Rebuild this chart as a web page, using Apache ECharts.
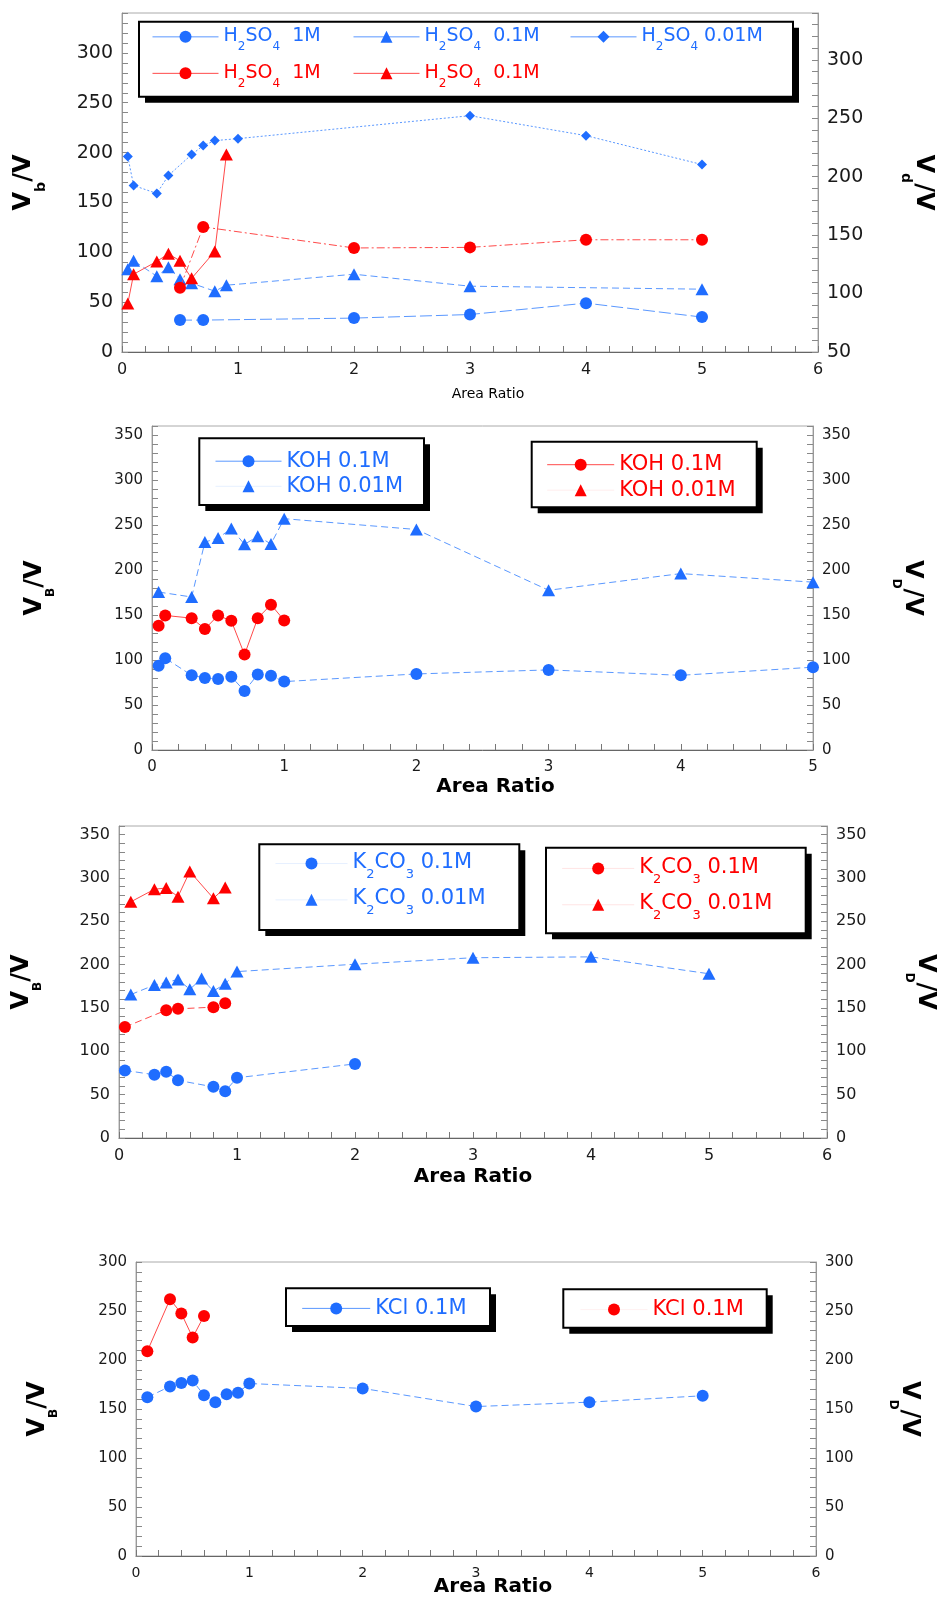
<!DOCTYPE html>
<html><head><meta charset="utf-8">
<script src="https://cdn.jsdelivr.net/npm/echarts@6/dist/echarts.min.js"></script>
<style>html,body{margin:0;padding:0;background:#fff}#c{width:938px;height:1600px}</style>
</head><body><div id="c"></div>
<script>
// ---------------- DATA ----------------
// Panel 1: H2SO4  (blue = V_B left axis, red = V_D right axis)
const h2so4X1M   = [0.5, 0.7, 2, 3, 4, 5];
const h2so4VB1M  = [32, 32, 34, 37.6, 49, 35];
const h2so4X01M  = [0.05, 0.1, 0.3, 0.4, 0.5, 0.6, 0.8, 0.9, 2, 3, 5];
const h2so4VB01M = [83, 91.5, 76, 85, 73, 69, 61, 67, 78, 66, 63];
const h2so4X001M = [0.05, 0.1, 0.3, 0.4, 0.6, 0.7, 0.8, 1, 3, 4, 5];
const h2so4VB001M= [196, 167, 159, 177, 198, 207, 212, 214, 237, 217, 188];
const h2so4XD1M  = [0.5, 0.7, 2, 3, 4, 5];
const h2so4VD1M  = [105, 157, 139, 139.5, 146, 146];
const h2so4XD01M = [0.05, 0.1, 0.3, 0.4, 0.5, 0.6, 0.8, 0.9];
const h2so4VD01M = [91.5, 116.5, 127.5, 134, 128, 113, 136, 219];

// Panel 2: KOH
const kohX01   = [0.05, 0.1, 0.3, 0.4, 0.5, 0.6, 0.7, 0.8, 0.9, 1, 2, 3, 4, 5];
const kohVB01  = [93.5, 102, 83, 80, 79, 81.5, 65.5, 84, 82.5, 76, 84.5, 89, 83, 92];
const kohX001  = [0.05, 0.3, 0.4, 0.5, 0.6, 0.7, 0.8, 0.9, 1, 2, 3, 4, 5];
const kohVB001 = [175.5, 170, 231, 235.5, 246, 228.5, 237.5, 229, 257, 245, 177.5, 196, 186.5];
const kohXD01  = [0.05, 0.1, 0.3, 0.4, 0.5, 0.6, 0.7, 0.8, 0.9, 1];
const kohVD01  = [138, 149.5, 146.5, 134.5, 149.5, 143.5, 106, 146.5, 161.5, 144];
const kohXD001 = [];
const kohVD001 = [];

// Panel 3: K2CO3
const k2co3X01   = [0.05, 0.3, 0.4, 0.5, 0.8, 0.9, 1, 2];
const k2co3VB01  = [78, 73, 76.5, 66.5, 59, 54, 69.5, 85.5];
const k2co3X001  = [0.1, 0.3, 0.4, 0.5, 0.6, 0.7, 0.8, 0.9, 1, 2, 3, 4, 5];
const k2co3VB001 = [165.5, 176.5, 179.5, 183, 171.5, 184, 169.5, 178, 192, 200.5, 208, 209, 189.5];
const k2co3XD01  = [0.05, 0.4, 0.5, 0.8, 0.9];
const k2co3VD01  = [128, 147.5, 149, 151, 155.5];
const k2co3XD001 = [0.1, 0.3, 0.4, 0.5, 0.6, 0.8, 0.9];
const k2co3VD001 = [272.5, 287, 288.5, 278.5, 307.5, 276.5, 289];

// Panel 4: KCl
const kclX  = [0.1, 0.3, 0.4, 0.5, 0.6, 0.7, 0.8, 0.9, 1, 2, 3, 4, 5];
const kclVB = [162, 173, 176.5, 179, 164, 157, 165, 166.5, 176, 171, 152.5, 157, 163.5];
const kclXD = [0.1, 0.3, 0.4, 0.5, 0.6];
const kclVD = [209, 262, 247.5, 223, 245];

// Axis ranges
const xMax        = [6, 5, 6, 6];
const yLeftRange  = [[0, 340], [0, 360], [0, 360], [0, 300]];
const yRightRange = [[50, 340], [0, 360], [0, 360], [0, 300]];
const xTitle = 'Area Ratio';

// ---------------- STYLE / LAYOUT ----------------
const FONT = 'DejaVu Sans';
const BLUE = '#1f6dff', BLUE_LINE = '#5a98ff';
const RED = '#ff0000', RED_LINE = '#ff4a4a';

// legend frames [x0, y0, x1, y1] (layout only)
const legendFrames = [
  [139, 21.7, 793, 96.7],
  [199.3, 438.3, 424, 505],
  [531.7, 441.7, 756.7, 507.3],
  [259.3, 844.3, 519.3, 930],
  [546, 847.7, 805.7, 933.3],
  [286, 1288.3, 490, 1326],
  [563.3, 1289.3, 766.7, 1327.7]
];

const LABELS = {
  P1_b1:  '{b|H}{bs|2}{b|SO}{bs|4}{b|  1M}',
  P1_b01: '{b|H}{bs|2}{b|SO}{bs|4}{b|  0.1M}',
  P1_b001:'{b|H}{bs|2}{b|SO}{bs|4}{b| 0.01M}',
  P1_r1:  '{r|H}{rs|2}{r|SO}{rs|4}{r|  1M}',
  P1_r01: '{r|H}{rs|2}{r|SO}{rs|4}{r|  0.1M}',
  P2_b01: '{b|KOH 0.1M}', P2_b001: '{b|KOH 0.01M}',
  P2_r01: '{r|KOH 0.1M}', P2_r001: '{r|KOH 0.01M}',
  P3_b01: '{b|K}{bs|2}{b|CO}{bs|3}{b| 0.1M}', P3_b001: '{b|K}{bs|2}{b|CO}{bs|3}{b| 0.01M}',
  P3_r01: '{r|K}{rs|2}{r|CO}{rs|3}{r| 0.1M}', P3_r001: '{r|K}{rs|2}{r|CO}{rs|3}{r| 0.01M}',
  P4_b: '{b|KCl 0.1M}', P4_r: '{r|KCl 0.1M}'
};

function pts(xs, ys) { return xs.map((x, i) => [x, ys[i]]); }
function ser(name, xs, ys, gi, yi, symbol, size, red, dash) {
  return {
    type: 'line', name, xAxisIndex: gi, yAxisIndex: yi, data: pts(xs, ys),
    symbol, symbolSize: size, showSymbol: true, showAllSymbol: true,
    itemStyle: { color: red ? RED : BLUE },
    lineStyle: { color: red ? RED_LINE : BLUE_LINE, width: 1, type: dash || 'solid' },
    emphasis: { disabled: true }, animation: false, z: red ? 3 : 2
  };
}
const TRI = [13, 12], CIR = 12, DIA = 10;
const LONG = [12, 4], DOT = [2, 2], DD = [8, 3, 2, 3], MID = [7, 4];

function richSub(fs, sfs, pm, ps) {
  const mk = (c) => ({ color: c, fontFamily: FONT, fontSize: fs, padding: [pm, 0, pm, 0], verticalAlign: 'top' });
  const mks = (c) => ({ color: c, fontFamily: FONT, fontSize: sfs, padding: [ps, 0, 0, 0], verticalAlign: 'top' });
  return { b: mk(BLUE), bs: mks(BLUE), r: mk(RED), rs: mks(RED) };
}
function richPlain(fs) {
  return { b: { color: BLUE, fontFamily: FONT, fontSize: fs, lineHeight: 22 },
           r: { color: RED, fontFamily: FONT, fontSize: fs, lineHeight: 22 } };
}
function legendBox(o) {
  return Object.assign({
    selectedMode: false, padding: 0, itemHeight: 15, z: 10, orient: 'vertical',
    formatter: (n) => LABELS[n], lineStyle: { type: 'solid', width: 1 }
  }, o);
}

function xAx(gi, fs, nameFs, bold, gap, padL) {
  return {
    type: 'value', gridIndex: gi, min: 0, max: xMax[gi], interval: 1,
    axisLine: { onZero: false, lineStyle: { color: '#666', width: 1 } },
    axisTick: { inside: true, length: 6, lineStyle: { color: '#777' } },
    minorTick: { show: true, splitNumber: 5, length: 6, lineStyle: { color: '#777' } },
    splitLine: { show: false }, minorSplitLine: { show: false },
    axisLabel: { fontFamily: FONT, fontSize: fs, color: '#1a1a1a', margin: 10 },
    name: xTitle, nameLocation: 'middle', nameGap: gap, nameMoveOverlap: false,
    nameTextStyle: { fontFamily: FONT, fontSize: nameFs, fontWeight: bold ? 'bold' : 'normal',
                     color: '#000', padding: [0, 0, 0, padL] }
  };
}
function yAx(gi, pos, range, fs, sub, subFs, gap, showMax) {
  return {
    type: 'value', gridIndex: gi, position: pos, min: range[0], max: range[1], interval: 50,
    axisLine: { show: true, onZero: false, lineStyle: { color: '#999' } },
    axisTick: { show: true, inside: true, length: 6, lineStyle: { color: '#888' } },
    minorTick: { show: true, splitNumber: 5, length: 6, lineStyle: { color: '#888' } },
    splitLine: { show: false }, minorSplitLine: { show: false },
    axisLabel: { fontFamily: FONT, fontSize: fs, color: '#1a1a1a', margin: 9, showMaxLabel: !!showMax },
    name: '{m|V}{s|' + sub + '}{m|/V}', nameLocation: 'middle', nameGap: gap, nameMoveOverlap: false,
    nameRotate: pos === 'right' ? -90 : 90,
    nameTextStyle: { rich: {
      m: { fontFamily: FONT, fontSize: 24, fontWeight: 'bold', color: '#000', padding: [11, 0, 11, 0], verticalAlign: 'top' },
      s: { fontFamily: FONT, fontSize: subFs, fontWeight: 'bold', color: '#000', padding: [33, 0, 0, 0], verticalAlign: 'top' }
    } }
  };
}

// legend frames drawn as decoration (shadow + bordered white box)
const graphics = [];
legendFrames.forEach(([x0, y0, x1, y1]) => {
  graphics.push({ type: 'rect', z: 5, shape: { x: x0 + 6, y: y0 + 6, width: x1 - x0, height: y1 - y0 }, style: { fill: '#000' } });
  graphics.push({ type: 'rect', z: 6, shape: { x: x0, y: y0, width: x1 - x0, height: y1 - y0 }, style: { fill: '#fff', stroke: '#000', lineWidth: 2 } });
});

const P1RICH = richSub(19, 12, 6, 20.5);
const P3RICH = richSub(21, 13, 6, 22.3);

const option = {
  animation: false,
  backgroundColor: '#fff',
  graphic: graphics,
  grid: [
    { left: 122, top: 13, width: 696, height: 339, show: true, borderColor: '#aaa', borderWidth: 1, backgroundColor: 'transparent', outerBoundsMode: 'none' },
    { left: 152, top: 426, width: 661, height: 324, show: true, borderColor: '#aaa', borderWidth: 1, backgroundColor: 'transparent', outerBoundsMode: 'none' },
    { left: 119, top: 826, width: 708, height: 312, show: true, borderColor: '#aaa', borderWidth: 1, backgroundColor: 'transparent', outerBoundsMode: 'none' },
    { left: 136, top: 1262, width: 680, height: 294, show: true, borderColor: '#aaa', borderWidth: 1, backgroundColor: 'transparent', outerBoundsMode: 'none' }
  ],
  xAxis: [
    xAx(0, 16, 14, false, 35, 36),
    xAx(1, 15, 20, true, 27, 26),
    xAx(2, 16, 20, true, 29, 0),
    xAx(3, 14, 20, true, 21, 34)
  ],
  yAxis: [
    yAx(0, 'left', yLeftRange[0], 19, 'b', 14, 74),
    yAx(0, 'right', yRightRange[0], 19, 'd', 14, 81),
    yAx(1, 'left', yLeftRange[1], 15, 'B', 12, 94),
    yAx(1, 'right', yRightRange[1], 15, 'D', 12, 76),
    yAx(2, 'left', yLeftRange[2], 16, 'B', 12, 74),
    yAx(2, 'right', yRightRange[2], 16, 'D', 12, 75),
    yAx(3, 'left', yLeftRange[3], 15, 'B', 12, 75, true),
    yAx(3, 'right', yRightRange[3], 15, 'D', 12, 70, true)
  ],
  legend: [
    legendBox({ left: 152, top: 26.6, itemWidth: 66, itemGap: 10,
      data: ['P1_b1', 'P1_r1'], textStyle: { rich: P1RICH } }),
    legendBox({ left: 353, top: 26.6, itemWidth: 66, itemGap: 10,
      data: ['P1_b01', 'P1_r01'], textStyle: { rich: P1RICH } }),
    legendBox({ left: 570, top: 26.6, itemWidth: 66, itemGap: 10,
      data: ['P1_b001'], textStyle: { rich: P1RICH } }),
    legendBox({ left: 215, top: 450.7, itemWidth: 66, itemGap: 4.1,
      data: ['P2_b01', { name: 'P2_b001', lineStyle: { opacity: 0.15 } }],
      textStyle: { rich: richPlain(21) } }),
    legendBox({ left: 546.7, top: 454.2, itemWidth: 67, itemGap: 4.5,
      data: ['P2_r01', { name: 'P2_r001', lineStyle: { opacity: 0.1 } }],
      textStyle: { rich: richPlain(21) } }),
    legendBox({ left: 275, top: 851.9, itemWidth: 72, itemGap: 7,
      data: [{ name: 'P3_b01', lineStyle: { opacity: 0.15 } }, { name: 'P3_b001', lineStyle: { opacity: 0.15 } }],
      textStyle: { rich: P3RICH } }),
    legendBox({ left: 561.7, top: 856.8, itemWidth: 72, itemGap: 7,
      data: [{ name: 'P3_r01', lineStyle: { opacity: 0.15 } }, { name: 'P3_r001', lineStyle: { opacity: 0.15 } }],
      textStyle: { rich: P3RICH } }),
    legendBox({ left: 301.7, top: 1297.9, itemWidth: 68,
      data: ['P4_b'], textStyle: { rich: richPlain(21) } }),
    legendBox({ left: 580, top: 1299.1, itemWidth: 67,
      data: [{ name: 'P4_r', lineStyle: { opacity: 0.08 } }], textStyle: { rich: richPlain(21) } })
  ],
  series: [
    ser('P1_b1',   h2so4X1M,   h2so4VB1M,   0, 0, 'circle',   CIR, false, LONG),
    ser('P1_b01',  h2so4X01M,  h2so4VB01M,  0, 0, 'triangle', TRI, false, MID),
    ser('P1_b001', h2so4X001M, h2so4VB001M, 0, 0, 'diamond',  DIA, false, DOT),
    ser('P1_r1',   h2so4XD1M,  h2so4VD1M,   0, 1, 'circle',   CIR, true, DD),
    ser('P1_r01',  h2so4XD01M, h2so4VD01M,  0, 1, 'triangle', TRI, true, 'solid'),

    ser('P2_b01',  kohX01,  kohVB01,  1, 2, 'circle',   CIR, false, MID),
    ser('P2_b001', kohX001, kohVB001, 1, 2, 'triangle', TRI, false, MID),
    ser('P2_r01',  kohXD01, kohVD01,  1, 3, 'circle',   CIR, true, 'solid'),
    ser('P2_r001', kohXD001, kohVD001, 1, 3, 'triangle', TRI, true, 'solid'),

    ser('P3_b01',  k2co3X01,  k2co3VB01,  2, 4, 'circle',   CIR, false, MID),
    ser('P3_b001', k2co3X001, k2co3VB001, 2, 4, 'triangle', TRI, false, MID),
    ser('P3_r01',  k2co3XD01, k2co3VD01,  2, 5, 'circle',   CIR, true, MID),
    ser('P3_r001', k2co3XD001, k2co3VD001, 2, 5, 'triangle', TRI, true, 'solid'),

    ser('P4_b', kclX,  kclVB, 3, 6, 'circle', CIR, false, MID),
    ser('P4_r', kclXD, kclVD, 3, 7, 'circle', CIR, true, 'solid')
  ]
};

const chart = echarts.init(document.getElementById('c'), null, { renderer: 'canvas', width: 938, height: 1600 });
chart.setOption(option);
</script>
</body></html>
